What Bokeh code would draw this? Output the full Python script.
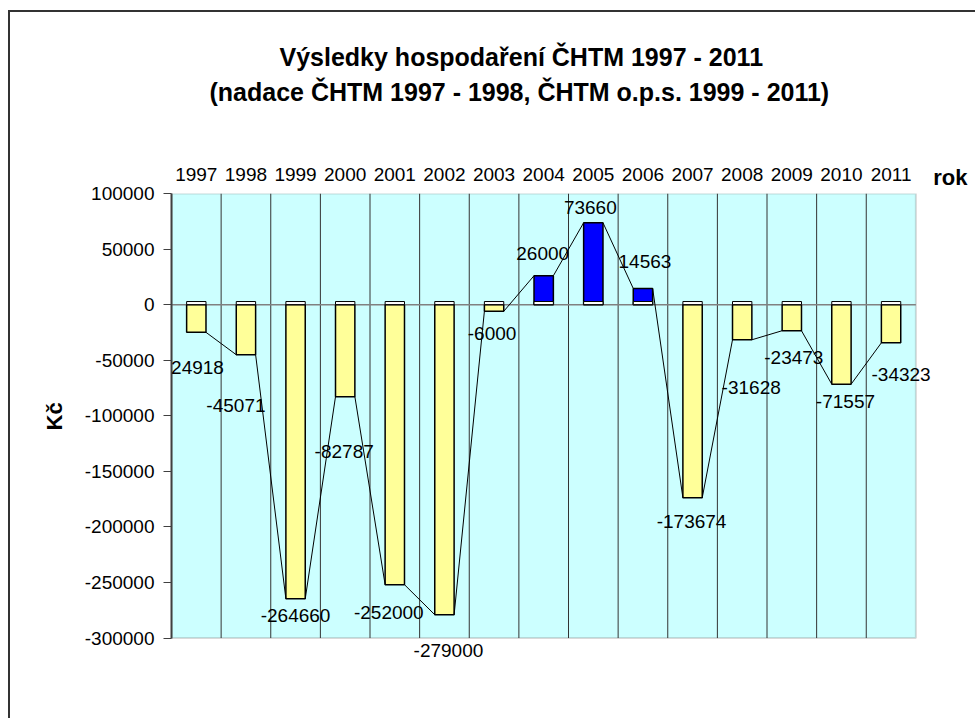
from bokeh.plotting import figure
from bokeh.models import (ColumnDataSource, FixedTicker, LinearAxis, Label, Title,
                          BasicTickFormatter, Range1d, BoxAnnotation)
from bokeh.embed import file_html
from bokeh.resources import INLINE

# ---- data ----
years = ["1997", "1998", "1999", "2000", "2001", "2002", "2003", "2004",
         "2005", "2006", "2007", "2008", "2009", "2010", "2011"]
results = [-24918, -45071, -264660, -82787, -252000, -279000, -6000, 26000,
           73660, 14563, -173674, -31628, -23473, -71557, -34323]
y_ticks = [-300000, -250000, -200000, -150000, -100000, -50000, 0, 50000, 100000]

# label placement (screen-pixel nudges, style only)
lab_dx = [-2, -10, 0, -1, -6, 4, -2, -1, -3, 2, -1, 9, 2, 4, 10]
lab_dy = [35, 51, 17, 55, 28, 36, 22, -22, -15, -27, 24, 48, 27, 17, 32]

FONT = "Liberation Sans"
BAR_W = 0.39
n = len(years)
xc = [i + 0.5 for i in range(n)]
colors = ["#0000FF" if v > 0 else "#FFFF99" for v in results]

p = figure(width=967, height=708, output_backend="svg", toolbar_location=None,
           x_range=Range1d(0, n + 1), y_range=Range1d(-340000, y_ticks[-1]),
           x_axis_location=None, y_axis_location=None,
           min_border_left=161, min_border_right=12, min_border_top=181,
           min_border_bottom=38,
           title="Výsledky hospodaření ČHTM 1997 - 2011")
p.styles = {"border-top": "2px solid #333333", "border-left": "2px solid #333333",
            "margin-top": "10px", "margin-left": "8px"}
p.background_fill_color = "white"
p.border_fill_color = "white"
p.outline_line_color = None
p.xgrid.visible = False
p.ygrid.visible = False

# plot area (cyan) with grey border
p.add_layout(BoxAnnotation(left=0, right=n, bottom=y_ticks[0], top=y_ticks[-1],
                           fill_color="#CCFFFF", fill_alpha=1.0,
                           line_color="#808080", line_width=2, level="underlay"))

# left axis
ya = LinearAxis(ticker=FixedTicker(ticks=y_ticks),
                formatter=BasicTickFormatter(use_scientific=False),
                major_label_overrides={t: str(t) for t in y_ticks},
                bounds=(y_ticks[0], y_ticks[-1]))
ya.axis_line_color = "#404040"
ya.axis_line_width = 2
ya.major_tick_line_color = "#404040"
ya.major_tick_out = 8
ya.major_tick_in = 0
ya.minor_tick_line_color = None
ya.major_label_text_font = FONT
ya.major_label_text_font_size = "19px"
ya.major_label_text_color = "black"
ya.major_label_standoff = 9
p.add_layout(ya, "left")

# y axis title "Kč" (beside the axis, centred on the value range)
p.add_layout(Title(text="Kč", align="left", offset=252, vertical_align="middle",
                   standoff=28, text_font=FONT, text_font_size="22px",
                   text_font_style="bold", text_color="black"), "left")

# top category axis
xa = LinearAxis(ticker=FixedTicker(ticks=xc),
                major_label_overrides={x: y for x, y in zip(xc, years)})
xa.axis_line_color = None
xa.major_tick_line_color = None
xa.minor_tick_line_color = None
xa.major_label_text_font = FONT
xa.major_label_text_font_size = "19px"
xa.major_label_text_color = "black"
xa.major_label_standoff = 7
p.add_layout(xa, "above")

# axis title "rok"
p.add_layout(Title(text="rok", align="right", offset=-2, standoff=-50,
                   text_font=FONT, text_font_size="22px", text_font_style="bold",
                   text_color="black"), "above")
# second title line
p.add_layout(Title(text="(nadace ČHTM 1997 - 1998, ČHTM o.p.s. 1999 - 2011)",
                   align="left", offset=38, standoff=118,
                   text_font=FONT, text_font_size="25px", text_font_style="bold",
                   text_color="black"), "above")
p.title.align = "left"
p.title.offset = 108
p.title.standoff = -109
p.title.text_font = FONT
p.title.text_font_size = "25px"
p.title.text_font_style = "bold"
p.title.text_color = "black"

# grid lines at category boundaries
bx = list(range(1, n))
p.segment(x0=bx, x1=bx, y0=y_ticks[0], y1=y_ticks[-1], line_color="#333333",
          line_width=1)
# zero line
p.segment(x0=[0], x1=[n], y0=[0], y1=[0], line_color="#808080", line_width=1.5)

src = ColumnDataSource(dict(x=xc, top=results, color=colors))
p.vbar(x="x", top="top", bottom=0, width=BAR_W, fill_color="color",
       line_color="black", line_width=1.5, source=src)
# thin white strip at the base of each bar
p.vbar(x="x", top=2800, bottom=0, width=BAR_W, fill_color="white",
       line_color="black", line_width=1, source=src)

# series lines joining bar ends
x0 = [x + BAR_W / 2 for x in xc[:-1]]
x1 = [x - BAR_W / 2 for x in xc[1:]]
p.segment(x0=x0, y0=results[:-1], x1=x1, y1=results[1:], line_color="black",
          line_width=1)

# data labels
for x, v, dx, dy in zip(xc, results, lab_dx, lab_dy):
    p.add_layout(Label(x=x, y=v, x_offset=dx, y_offset=-dy, text=str(v),
                       text_font=FONT, text_font_size="19px", text_color="black",
                       text_align="center", text_baseline="middle"))

open("out.html", "w").write(file_html(p, INLINE))
